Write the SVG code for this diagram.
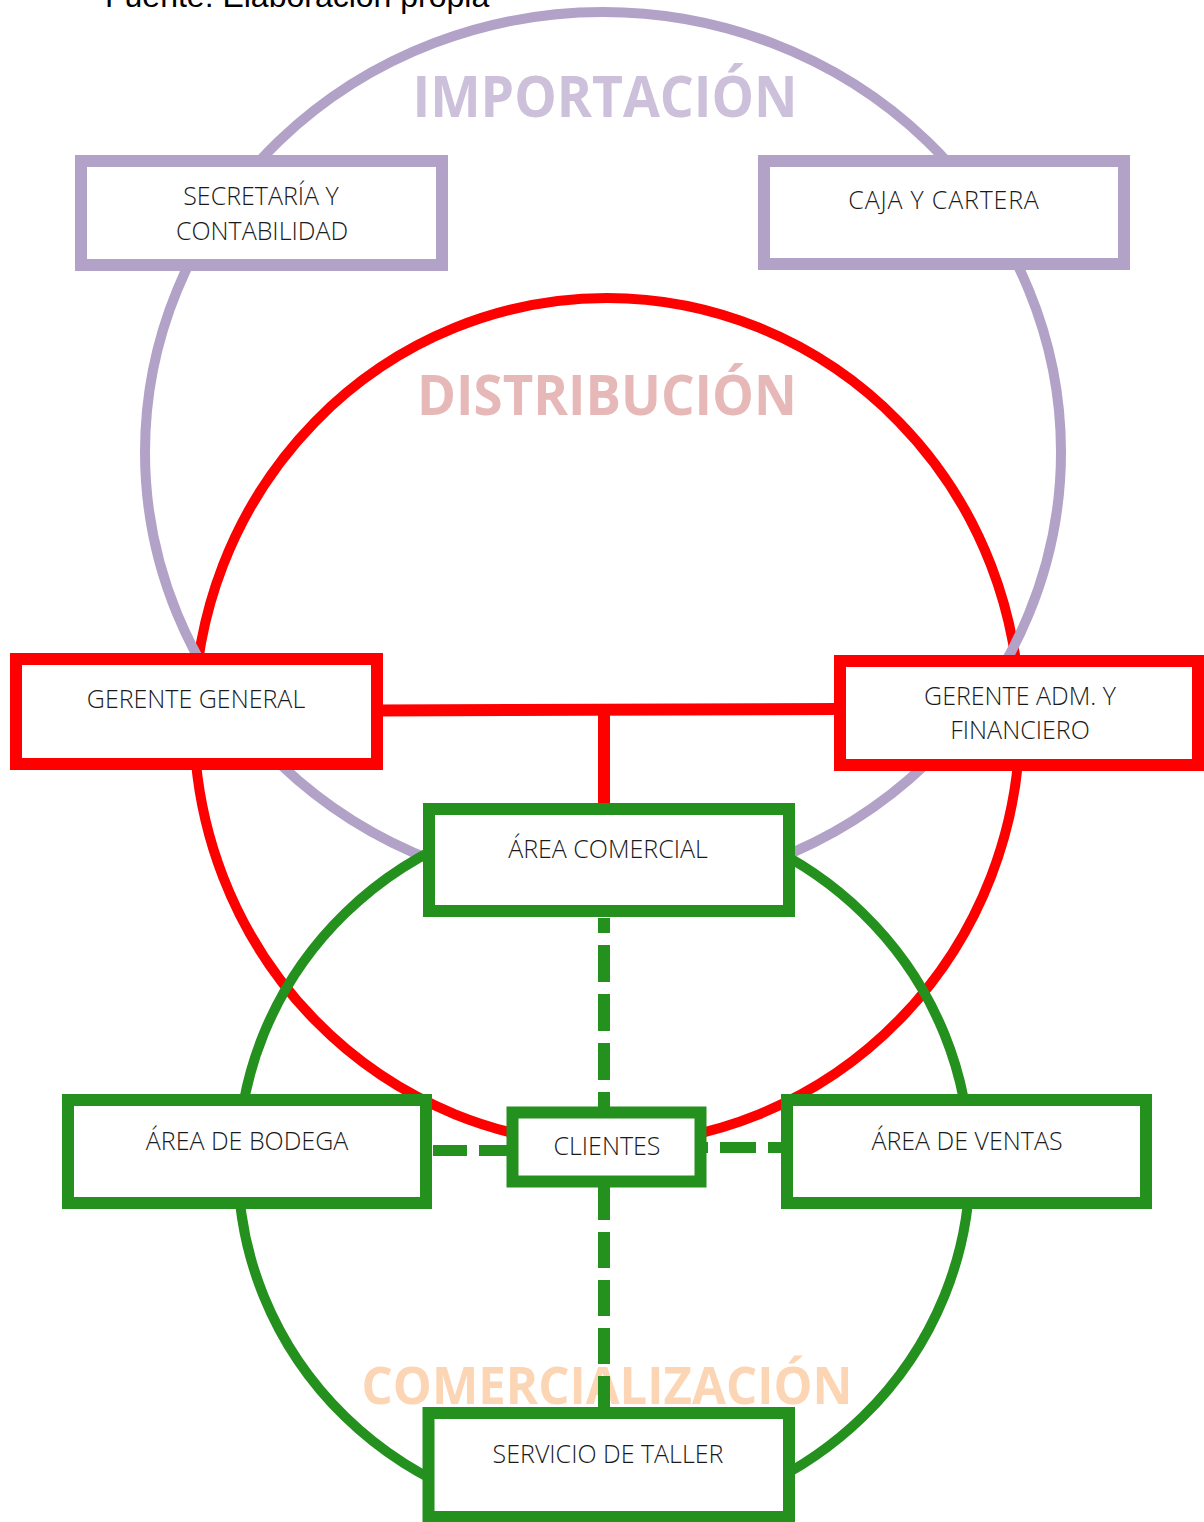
<svg xmlns="http://www.w3.org/2000/svg" width="1204" height="1522" viewBox="0 0 1204 1522">
<style>
.bg{fill:#ffffff}
.ring{fill:none}
.title{font-family:"Open Sans","Noto Sans",sans-serif;font-weight:700;text-anchor:middle}
.lbl{font-family:"Open Sans","Noto Sans",sans-serif;font-weight:300;font-size:25px;fill:#1a1a1a;text-anchor:middle}
.box{fill:#ffffff;stroke-width:12}
.pb{stroke:#B3A2C8}
.rb{stroke:#FF0000}
.gb{stroke:#24901E}
.src{font-family:"Liberation Sans",Arial,sans-serif;font-size:32px;fill:#000000}
</style>
<rect class="bg" x="0" y="0" width="1204" height="1522"/>
<text class="src" x="105" y="7">Fuente: Elaboración propia</text>
<g id="rings">
<ellipse class="ring" cx="607" cy="721" rx="413" ry="423" stroke="#FF0000" stroke-width="10"/>
<ellipse class="ring" cx="603" cy="452" rx="458" ry="440" stroke="#B3A2C8" stroke-width="10"/>
<ellipse class="ring" cx="604" cy="1165" rx="366" ry="356" stroke="#24901E" stroke-width="10"/>
</g>
<g id="titles">
<text class="title" x="605" y="117" font-size="58" fill="#CCC0DA" textLength="385" lengthAdjust="spacingAndGlyphs">IMPORTACIÓN</text>
<text class="title" x="607" y="415" font-size="56" fill="#E6B9B8" textLength="380" lengthAdjust="spacingAndGlyphs">DISTRIBUCIÓN</text>
<text class="title" x="607" y="1404" font-size="52" fill="#FCD5B4" textLength="491" lengthAdjust="spacingAndGlyphs">COMERCIALIZACIÓN</text>
</g>
<g id="connectors">
<line x1="377" y1="710.5" x2="840" y2="709" stroke="#FF0000" stroke-width="12"/>
<line x1="604" y1="709" x2="604" y2="809" stroke="#FF0000" stroke-width="12"/>
<line x1="604" y1="918" x2="604" y2="1107" stroke="#24901E" stroke-width="12" stroke-dasharray="37 12" stroke-dashoffset="22"/>
<line x1="604" y1="1187" x2="604" y2="1407" stroke="#24901E" stroke-width="12" stroke-dasharray="36 12" stroke-dashoffset="3"/>
<line x1="433" y1="1150.5" x2="507" y2="1150.5" stroke="#24901E" stroke-width="11" stroke-dasharray="36 12" stroke-dashoffset="2"/>
<line x1="781" y1="1147.5" x2="706" y2="1147.5" stroke="#24901E" stroke-width="11" stroke-dasharray="36 12" stroke-dashoffset="23"/>
</g>
<g id="secretaria">
<rect class="box pb" x="81" y="161" width="361" height="104"/>
<text class="lbl" x="261" y="205">SECRETARÍA Y</text>
<text class="lbl" x="262" y="240">CONTABILIDAD</text>
</g>
<g id="caja">
<rect class="box pb" x="764" y="161" width="360" height="103"/>
<text class="lbl" x="944" y="209" letter-spacing="0.8">CAJA Y CARTERA</text>
</g>
<g id="gerente-general">
<rect class="box rb" x="16" y="659" width="361" height="105"/>
<text class="lbl" x="196" y="708">GERENTE GENERAL</text>
</g>
<g id="gerente-adm">
<rect class="box rb" x="840" y="661" width="358" height="104"/>
<text class="lbl" x="1020" y="705">GERENTE ADM. Y</text>
<text class="lbl" x="1020" y="739">FINANCIERO</text>
</g>
<g id="area-comercial">
<rect class="box gb" x="429" y="809" width="360" height="102"/>
<text class="lbl" x="608" y="858">ÁREA COMERCIAL</text>
</g>
<g id="area-bodega">
<rect class="box gb" x="68" y="1100" width="358" height="103"/>
<text class="lbl" x="247" y="1150">ÁREA DE BODEGA</text>
</g>
<g id="clientes">
<rect class="box gb" x="512.5" y="1112.5" width="188" height="69" stroke-width="11"/>
<text class="lbl" x="607" y="1155">CLIENTES</text>
</g>
<g id="area-ventas">
<rect class="box gb" x="787" y="1100" width="359" height="103"/>
<text class="lbl" x="967" y="1150">ÁREA DE VENTAS</text>
</g>
<g id="servicio-taller">
<rect class="box gb" x="428.5" y="1413" width="360.5" height="104"/>
<text class="lbl" x="608" y="1463">SERVICIO DE TALLER</text>
</g>
</svg>
